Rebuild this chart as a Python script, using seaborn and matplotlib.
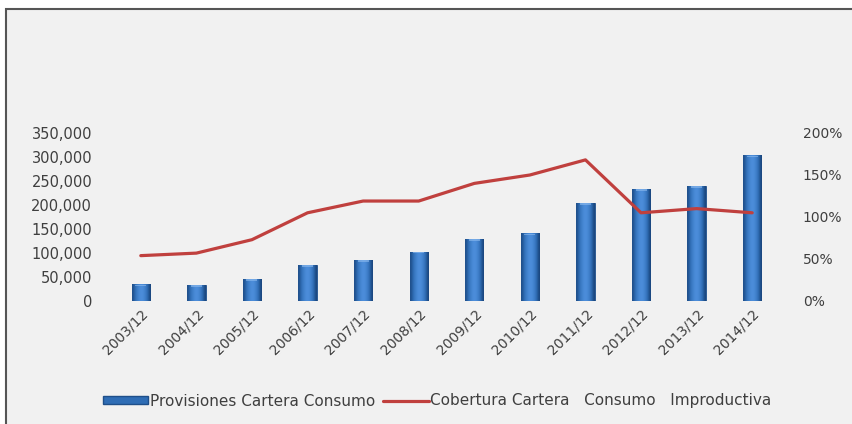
import numpy as np
import pandas as pd
import seaborn as sns
import matplotlib.pyplot as plt
from matplotlib.patches import Rectangle
from matplotlib.lines import Line2D
from matplotlib.ticker import FuncFormatter
from matplotlib.colors import LinearSegmentedColormap

periods = ["2003/12", "2004/12", "2005/12", "2006/12", "2007/12", "2008/12",
           "2009/12", "2010/12", "2011/12", "2012/12", "2013/12", "2014/12"]
provisiones = [35000, 34000, 46000, 75000, 86000, 103000,
               130000, 141000, 205000, 234000, 240000, 304000]
cobertura = [0.54, 0.57, 0.73, 1.05, 1.19, 1.19,
             1.40, 1.50, 1.68, 1.05, 1.10, 1.05]

bar_label = "Provisiones Cartera Consumo"
line_label = "Cobertura Cartera   Consumo   Improductiva"

df = pd.DataFrame({"periodo": periods, "provisiones": provisiones,
                   "cobertura": cobertura})

sns.set_theme(style="white")
plt.rcParams["font.family"] = ["DejaVu Sans"]
text_color = "#3f3f3f"
bar_color = "#2f6db5"
line_color = "#c0403e"

fig = plt.figure(figsize=(8.52, 4.24), dpi=100)
fig.patch.set_facecolor("white")
# chart-area panel with its dark frame
fig.patches.append(Rectangle((6 / 852, -0.01), 1, 1.01 - 9 / 424, transform=fig.transFigure,
                             facecolor="#f1f1f1", edgecolor="#555555", linewidth=1.5,
                             zorder=-10))

ax = fig.add_axes([113 / 852, 1 - 301 / 424, 667 / 852, 168 / 424])
ax.set_facecolor("none")

sns.barplot(data=df, x="periodo", y="provisiones", ax=ax, color=bar_color,
            width=0.33, saturation=1, edgecolor="#1f4f8a", linewidth=0.6, zorder=2)

# cylinder-like horizontal shading on each bar
shade = np.array([[0.55, 0.72, 0.85, 0.95, 1.0, 0.95, 0.85, 0.7, 0.5]])
cmap = LinearSegmentedColormap.from_list("bar", ["#163e72", "#2f6db5", "#4d8fdc"])
for p in list(ax.patches):
    x0, y0 = p.get_x(), p.get_y()
    w, h = p.get_width(), p.get_height()
    im = ax.imshow(shade, cmap=cmap, vmin=0.45, vmax=1.0, aspect="auto",
                   extent=(x0, x0 + w, y0, y0 + h), zorder=3, interpolation="bicubic")
    im.set_clip_path(p)
    # lighter cap at the top of the bar
    ax.add_patch(Rectangle((x0 + w * 0.2, y0 + h - 4000), w * 0.6, 3000,
                           facecolor="#8fbdf0", edgecolor="none", alpha=0.6, zorder=4))

ax.set_xlim(-0.5, len(periods) - 0.5)
ax.set_ylim(0, 350000)
ax.set_yticks(range(0, 350001, 50000))
ax.yaxis.set_major_formatter(FuncFormatter(lambda v, _: f"{int(v):,}"))
ax.set_xlabel("")
ax.set_ylabel("")
ax.tick_params(axis="y", length=0, pad=15, labelsize=10.5, labelcolor=text_color)
ax.tick_params(axis="x", length=0, pad=4, labelsize=10, labelcolor=text_color)
plt.setp(ax.get_xticklabels(), rotation=45, ha="right", rotation_mode="anchor")
for s in ax.spines.values():
    s.set_visible(False)

ax2 = ax.twinx()
sns.lineplot(data=df, x="periodo", y="cobertura", ax=ax2, color=line_color,
             linewidth=2.3, sort=False, zorder=5)
ax2.set_ylim(0, 2.0)
ax2.set_yticks(np.arange(0, 2.01, 0.5))
ax2.yaxis.set_major_formatter(FuncFormatter(lambda v, _: f"{v * 100:.0f}%"))
ax2.set_ylabel("")
ax2.tick_params(axis="y", length=0, pad=16.5, labelsize=10, labelcolor=text_color)
for s in ax2.spines.values():
    s.set_visible(False)

handles = [Rectangle((0, 0), 1, 1, facecolor=bar_color, edgecolor="#1f4f8a"),
           Line2D([0], [0], color=line_color, linewidth=2.3)]
fig.legend(handles, [bar_label, line_label], loc="center", ncol=2,
           bbox_to_anchor=(437 / 852, 1 - 401 / 424), frameon=False,
           fontsize=11, labelcolor=text_color, handlelength=3.0, handleheight=0.45,
           handletextpad=0.1, columnspacing=0.5)

fig.savefig("out.png", dpi=100)
